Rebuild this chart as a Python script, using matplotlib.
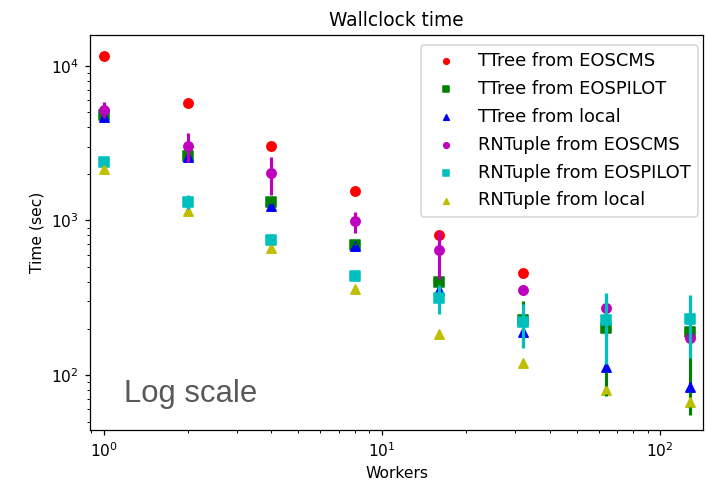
import numpy as np
import matplotlib
matplotlib.use("Agg")
import matplotlib.pyplot as plt

workers = [1, 2, 4, 8, 16, 32, 64, 128]

# mean wallclock time (sec) and spread per setup
ttree_eoscms = [11600, 5760, 3040, 1560, 805, 455]
ttree_eoscms_err = [300, 150, 80, 40, 25, 15]
ttree_eospilot = [4800, 2600, 1320, 690, 402, 227, 203, 190]
ttree_eospilot_err = [100, 60, 40, 20, 20, 75, 130, 135]
ttree_local = [4700, 2560, 1240, 684, 355, 190, 113, 84]
ttree_local_err = [80, 50, 30, 15, 15, 10, 8, 6]
rntuple_eoscms = [5200, 3050, 2030, 985, 640, 355, 270, 173]
rntuple_eoscms_err = [600, 650, 560, 155, 220, 25, 20, 15]
rntuple_eospilot = [2380, 1320, 750, 435, 315, 220, 227, 229]
rntuple_eospilot_err = [100, 150, 60, 30, 65, 70, 110, 100]
rntuple_local = [2150, 1150, 665, 361, 184, 120, 80, 67]
rntuple_local_err = [50, 30, 20, 10, 8, 5, 5, 5]

series = [
    ("TTree from EOSCMS", ttree_eoscms, ttree_eoscms_err, "r", "o"),
    ("TTree from EOSPILOT", ttree_eospilot, ttree_eospilot_err, "g", "s"),
    ("TTree from local", ttree_local, ttree_local_err, "b", "^"),
    ("RNTuple from EOSCMS", rntuple_eoscms, rntuple_eoscms_err, "m", "o"),
    ("RNTuple from EOSPILOT", rntuple_eospilot, rntuple_eospilot_err, "c", "s"),
    ("RNTuple from local", rntuple_local, rntuple_local_err, "y", "^"),
]

fig = plt.figure(figsize=(707 / 112, 499 / 112), dpi=112)
ax = fig.add_axes([0.127, 0.138, 0.868, 0.792])

for label, vals, err, color, marker in series:
    x = workers[:len(vals)]
    ax.scatter(x, vals, c=color, marker=marker, s=36, label=label)
    ax.errorbar(x, vals, yerr=err, fmt="none", ecolor=color, elinewidth=2)

ax.set_xscale("log")
ax.set_yscale("log")
ax.set_xlim(0.89, 143)
ax.set_ylim(44, 15870)
ax.set_title("Wallclock time")
ax.set_xlabel("Workers")
ax.set_ylabel("Time (sec)")
ax.legend(loc="upper right", markerscale=0.6, fontsize=11.5, labelspacing=0.55,
          bbox_to_anchor=(698 / 707, 1 - 45 / 499), bbox_transform=fig.transFigure,
          borderaxespad=0)

ax.text(0.055, 0.07, "Log scale", transform=ax.transAxes, fontsize=20,
        family="Liberation Sans", color="#595959")

fig.savefig("out.png", dpi=112)
